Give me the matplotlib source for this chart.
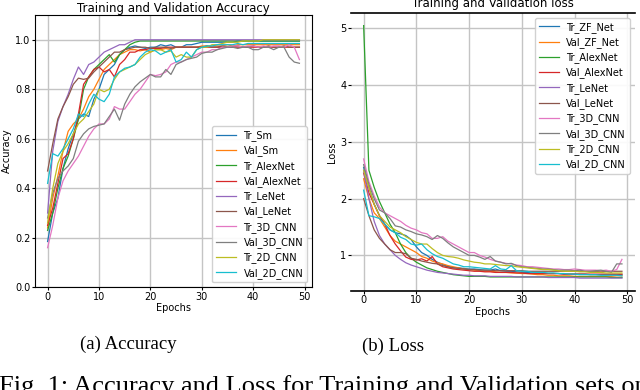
import matplotlib
matplotlib.use("Agg")
import matplotlib.pyplot as plt
import numpy as np

epochs = list(range(50))

# ---- Accuracy data ----
acc_labels = ["Tr_Sm", "Val_Sm", "Tr_AlexNet", "Val_AlexNet", "Tr_LeNet", "Val_LeNet",
              "Tr_3D_CNN", "Val_3D_CNN", "Tr_2D_CNN", "Val_2D_CNN"]
acc_tr_sm = [0.185, 0.30, 0.36, 0.48, 0.56, 0.62, 0.68, 0.70, 0.69, 0.76,
             0.80, 0.86, 0.88, 0.90, 0.94, 0.96, 0.97, 0.975, 0.97, 0.965,
             0.97, 0.97, 0.98, 0.975, 0.98, 0.97, 0.97, 0.98, 0.98, 0.985,
             0.99, 0.99, 0.99, 0.99, 0.99, 0.99, 0.99, 0.995, 0.995, 0.995,
             0.995, 0.995, 0.995, 0.995, 0.995, 0.995, 0.995, 0.995, 0.995, 0.995]
acc_val_sm = [0.24, 0.36, 0.45, 0.55, 0.63, 0.66, 0.68, 0.72, 0.77, 0.80,
              0.84, 0.88, 0.90, 0.92, 0.94, 0.95, 0.96, 0.96, 0.955, 0.96,
              0.95, 0.96, 0.96, 0.965, 0.96, 0.97, 0.97, 0.97, 0.97, 0.97,
              0.975, 0.975, 0.975, 0.975, 0.975, 0.98, 0.975, 0.98, 0.98, 0.98,
              0.98, 0.98, 0.98, 0.98, 0.98, 0.98, 0.98, 0.98, 0.98, 0.98]
acc_tr_alex = [0.23, 0.30, 0.40, 0.48, 0.53, 0.60, 0.68, 0.80, 0.85, 0.88,
               0.90, 0.92, 0.94, 0.91, 0.94, 0.96, 0.98, 0.99, 0.995, 0.995,
               0.995, 0.995, 0.995, 0.995, 0.995, 0.995, 0.995, 0.995, 0.995, 0.995,
               0.995, 0.995, 0.995, 0.995, 0.995, 0.995, 0.995, 0.995, 0.995, 0.995,
               0.995, 0.995, 0.995, 0.995, 0.995, 0.995, 0.995, 0.995, 0.995, 0.995]
acc_val_alex = [0.25, 0.32, 0.42, 0.52, 0.54, 0.60, 0.70, 0.82, 0.85, 0.88,
                0.89, 0.87, 0.88, 0.85, 0.90, 0.92, 0.95, 0.95, 0.96, 0.96,
                0.965, 0.965, 0.965, 0.97, 0.97, 0.97, 0.97, 0.97, 0.97, 0.97,
                0.97, 0.97, 0.97, 0.97, 0.97, 0.97, 0.97, 0.97, 0.97, 0.97,
                0.97, 0.97, 0.97, 0.97, 0.97, 0.97, 0.97, 0.97, 0.97, 0.97]
acc_tr_lenet = [0.30, 0.55, 0.67, 0.73, 0.78, 0.84, 0.89, 0.86, 0.90, 0.91,
                0.93, 0.95, 0.96, 0.97, 0.98, 0.98, 0.99, 1.0, 1.0, 1.0,
                1.0, 1.0, 1.0, 1.0, 1.0, 1.0, 1.0, 1.0, 1.0, 1.0,
                1.0, 1.0, 1.0, 1.0, 1.0, 1.0, 1.0, 1.0, 1.0, 1.0,
                1.0, 1.0, 1.0, 1.0, 1.0, 1.0, 1.0, 1.0, 1.0, 1.0]
acc_val_lenet = [0.47, 0.58, 0.68, 0.73, 0.77, 0.82, 0.845, 0.84, 0.845, 0.87,
                 0.89, 0.91, 0.93, 0.95, 0.95, 0.96, 0.965, 0.97, 0.97, 0.97,
                 0.965, 0.97, 0.97, 0.97, 0.965, 0.97, 0.97, 0.97, 0.97, 0.97,
                 0.97, 0.975, 0.97, 0.97, 0.975, 0.97, 0.97, 0.975, 0.97, 0.97,
                 0.975, 0.97, 0.97, 0.975, 0.97, 0.97, 0.975, 0.97, 0.97, 0.97]
acc_tr_3d = [0.16, 0.25, 0.36, 0.43, 0.47, 0.50, 0.53, 0.57, 0.61, 0.64,
             0.66, 0.66, 0.68, 0.73, 0.72, 0.72, 0.75, 0.78, 0.80, 0.83,
             0.86, 0.855, 0.86, 0.87, 0.90, 0.91, 0.91, 0.92, 0.93, 0.94,
             0.95, 0.95, 0.96, 0.96, 0.97, 0.97, 0.975, 0.975, 0.97, 0.975,
             0.975, 0.97, 0.975, 0.97, 0.975, 0.975, 0.97, 0.98, 0.97, 0.92]
acc_val_3d = [0.28, 0.38, 0.44, 0.47, 0.49, 0.52, 0.59, 0.62, 0.64, 0.65,
              0.655, 0.66, 0.69, 0.72, 0.675, 0.74, 0.78, 0.81, 0.83, 0.845,
              0.86, 0.85, 0.85, 0.88, 0.86, 0.90, 0.91, 0.92, 0.925, 0.93,
              0.945, 0.95, 0.95, 0.96, 0.965, 0.97, 0.97, 0.965, 0.97, 0.97,
              0.96, 0.96, 0.97, 0.97, 0.96, 0.97, 0.97, 0.93, 0.91, 0.905]
acc_tr_2d = [0.26, 0.40, 0.50, 0.55, 0.58, 0.62, 0.66, 0.68, 0.71, 0.74,
             0.80, 0.79, 0.80, 0.84, 0.87, 0.88, 0.89, 0.90, 0.92, 0.94,
             0.95, 0.96, 0.96, 0.95, 0.955, 0.93, 0.94, 0.93, 0.93, 0.96,
             0.97, 0.97, 0.98, 0.98, 0.985, 0.99, 0.99, 0.99, 0.995, 0.995,
             0.995, 0.995, 1.0, 1.0, 1.0, 1.0, 1.0, 1.0, 1.0, 1.0]
acc_val_2d = [0.42, 0.54, 0.53, 0.56, 0.60, 0.64, 0.70, 0.69, 0.74, 0.78,
              0.76, 0.75, 0.78, 0.85, 0.87, 0.885, 0.89, 0.90, 0.93, 0.95,
              0.96, 0.955, 0.94, 0.95, 0.96, 0.91, 0.92, 0.95, 0.93, 0.96,
              0.97, 0.975, 0.975, 0.98, 0.98, 0.98, 0.98, 0.985, 0.98, 0.985,
              0.985, 0.985, 0.985, 0.985, 0.985, 0.985, 0.985, 0.985, 0.985, 0.985]
acc_series = [acc_tr_sm, acc_val_sm, acc_tr_alex, acc_val_alex, acc_tr_lenet, acc_val_lenet,
              acc_tr_3d, acc_val_3d, acc_tr_2d, acc_val_2d]

# ---- Loss data ----
loss_labels = ["Tr_ZF_Net", "Val_ZF_Net", "Tr_AlexNet", "Val_AlexNet", "Tr_LeNet", "Val_LeNet",
               "Tr_3D_CNN", "Val_3D_CNN", "Tr_2D_CNN", "Val_2D_CNN"]
loss_tr_zf = [2.55, 2.2, 1.9, 1.7, 1.55, 1.45, 1.4, 1.38, 1.35, 1.28,
              1.15, 1.05, 1.0, 0.93, 0.88, 0.84, 0.8, 0.78, 0.78, 0.77,
              0.76, 0.76, 0.75, 0.74, 0.74, 0.76, 0.73, 0.72, 0.72, 0.71,
              0.7, 0.7, 0.69, 0.69, 0.68, 0.68, 0.68, 0.68, 0.67, 0.67,
              0.67, 0.67, 0.67, 0.66, 0.66, 0.66, 0.66, 0.66, 0.66, 0.66]
loss_val_zf = [2.35, 2.0, 1.75, 1.65, 1.5, 1.35, 1.25, 1.2, 1.15, 1.1,
               1.05, 0.98, 0.95, 0.9, 0.87, 0.85, 0.82, 0.8, 0.78, 0.76,
               0.75, 0.74, 0.73, 0.72, 0.72, 0.71, 0.7, 0.7, 0.69, 0.69,
               0.68, 0.68, 0.67, 0.66, 0.66, 0.65, 0.65, 0.64, 0.64, 0.64,
               0.63, 0.63, 0.63, 0.63, 0.63, 0.63, 0.63, 0.63, 0.64, 0.64]
loss_tr_alex = [5.05, 2.5, 2.2, 1.95, 1.75, 1.55, 1.4, 1.2, 1.05, 0.95,
                0.88, 0.83, 0.78, 0.75, 0.72, 0.7, 0.68, 0.66, 0.65, 0.64,
                0.63, 0.63, 0.63, 0.63, 0.62, 0.62, 0.62, 0.62, 0.62, 0.62,
                0.62, 0.62, 0.62, 0.62, 0.62, 0.62, 0.62, 0.62, 0.62, 0.62,
                0.62, 0.62, 0.62, 0.62, 0.62, 0.62, 0.62, 0.61, 0.61, 0.61]
loss_val_alex = [2.45, 2.1, 1.9, 1.7, 1.55, 1.35, 1.2, 1.08, 0.97, 0.93,
                 0.92, 0.94, 0.9, 0.98, 0.85, 0.8, 0.78, 0.76, 0.75, 0.74,
                 0.73, 0.72, 0.72, 0.71, 0.71, 0.7, 0.7, 0.7, 0.7, 0.69,
                 0.69, 0.68, 0.68, 0.68, 0.68, 0.68, 0.68, 0.68, 0.67, 0.67,
                 0.67, 0.67, 0.67, 0.67, 0.67, 0.67, 0.67, 0.67, 0.67, 0.67]
loss_tr_lenet = [2.5, 2.0, 1.6, 1.35, 1.2, 1.1, 1.0, 0.93, 0.87, 0.83,
                 0.8, 0.77, 0.74, 0.72, 0.7, 0.69, 0.68, 0.67, 0.66, 0.65,
                 0.65, 0.64, 0.64, 0.64, 0.63, 0.63, 0.63, 0.63, 0.63, 0.62,
                 0.62, 0.62, 0.62, 0.62, 0.62, 0.61, 0.61, 0.61, 0.61, 0.61,
                 0.61, 0.6, 0.6, 0.6, 0.6, 0.6, 0.6, 0.6, 0.6, 0.6]
loss_val_lenet = [2.0, 1.7, 1.45, 1.3, 1.2, 1.1, 1.05, 1.05, 1.03, 0.95,
                  0.93, 0.9, 0.88, 0.86, 0.85, 0.82, 0.8, 0.78, 0.77, 0.76,
                  0.75, 0.75, 0.74, 0.74, 0.74, 0.73, 0.73, 0.73, 0.73, 0.73,
                  0.73, 0.72, 0.72, 0.72, 0.72, 0.72, 0.72, 0.72, 0.72, 0.72,
                  0.72, 0.72, 0.72, 0.72, 0.72, 0.72, 0.72, 0.72, 0.72, 0.72]
loss_tr_3d = [2.7, 2.3, 2.05, 1.85, 1.75, 1.7, 1.65, 1.6, 1.53, 1.48,
              1.45, 1.4, 1.38, 1.3, 1.3, 1.33, 1.25, 1.2, 1.15, 1.1,
              1.05, 1.05, 1.0, 0.97, 0.93, 0.9, 0.88, 0.86, 0.85, 0.83,
              0.82, 0.8, 0.8, 0.79, 0.78, 0.77, 0.76, 0.76, 0.75, 0.75,
              0.76, 0.75, 0.74, 0.74, 0.74, 0.73, 0.74, 0.72, 0.75, 0.93]
loss_val_3d = [2.6, 2.25, 2.0, 1.8, 1.75, 1.65, 1.52, 1.5, 1.45, 1.42,
               1.38, 1.36, 1.33, 1.28, 1.35, 1.3, 1.22, 1.15, 1.1, 1.05,
               1.0, 1.0, 0.97, 0.93, 0.98, 0.9, 0.88, 0.85, 0.86, 0.82,
               0.8, 0.79, 0.78, 0.77, 0.76, 0.76, 0.75, 0.74, 0.74, 0.74,
               0.73, 0.74, 0.72, 0.72, 0.73, 0.74, 0.72, 0.7, 0.85, 0.85]
loss_tr_2d = [2.5, 2.2, 1.9, 1.7, 1.6, 1.5, 1.45, 1.4, 1.33, 1.28,
              1.23, 1.2, 1.2, 1.12, 1.05, 1.0, 0.98, 0.97, 0.95, 0.92,
              0.9, 0.88, 0.87, 0.85, 0.85, 0.84, 0.83, 0.82, 0.82, 0.8,
              0.79, 0.78, 0.77, 0.76, 0.75, 0.75, 0.74, 0.73, 0.72, 0.72,
              0.72, 0.71, 0.71, 0.7, 0.7, 0.7, 0.69, 0.69, 0.69, 0.69]
loss_val_2d = [2.15, 1.7, 1.68, 1.65, 1.55, 1.45, 1.4, 1.32, 1.28, 1.2,
               1.18, 1.2, 1.1, 1.03, 0.98, 0.95, 0.9, 0.85, 0.83, 0.8,
               0.8, 0.79, 0.78, 0.77, 0.76, 0.82, 0.76, 0.75, 0.82, 0.73,
               0.72, 0.72, 0.7, 0.7, 0.7, 0.69, 0.69, 0.68, 0.68, 0.67,
               0.67, 0.66, 0.66, 0.66, 0.66, 0.65, 0.65, 0.65, 0.65, 0.64]
loss_series = [loss_tr_zf, loss_val_zf, loss_tr_alex, loss_val_alex, loss_tr_lenet, loss_val_lenet,
               loss_tr_3d, loss_val_3d, loss_tr_2d, loss_val_2d]

colors = ["#1f77b4", "#ff7f0e", "#2ca02c", "#d62728", "#9467bd",
          "#8c564b", "#e377c2", "#7f7f7f", "#bcbd22", "#17becf"]

fig = plt.figure(figsize=(6.4, 3.9), dpi=100)
fs = 7

# Left: accuracy
ax1 = fig.add_axes([0.0547, 0.2633, 0.4328, 0.6982])
for y, lab, c in zip(acc_series, acc_labels, colors):
    ax1.plot(epochs, y, color=c, lw=0.9, label=lab)
ax1.set_ylim(0, 1.1)
ax1.set_yticks([0.0, 0.2, 0.4, 0.6, 0.8, 1.0])
ax1.set_xticks([0, 10, 20, 30, 40, 50])
ax1.grid(True, color="#c4c4c4", lw=1.0)
ax1.set_title("Training and Validation Accuracy", fontsize=8.5, pad=1.5)
ax1.set_xlabel("Epochs", fontsize=fs, labelpad=1)
ax1.set_ylabel("Accuracy", fontsize=fs, labelpad=2)
ax1.tick_params(labelsize=fs, length=2, pad=1.2)
ax1.legend(loc="lower right", fontsize=fs, labelspacing=0.45, handlelength=2.0,
           borderpad=0.4, framealpha=0.9)

# Right: loss
ax2 = fig.add_axes([0.548, 0.2546, 0.444, 0.7121])
for y, lab, c in zip(loss_series, loss_labels, colors):
    ax2.plot(epochs, y, color=c, lw=0.9, label=lab)
ax2.set_yticks([1, 2, 3, 4, 5])
ax2.set_xticks([0, 10, 20, 30, 40, 50])
ax2.grid(True, color="#c4c4c4", lw=1.0)
ax2.set_title("Training and Validation loss", fontsize=8.5, pad=4)
ax2.set_xlabel("Epochs", fontsize=fs, labelpad=1)
ax2.set_ylabel("Loss", fontsize=fs, labelpad=2)
ax2.tick_params(labelsize=fs, length=2, pad=1.2)
ax2.spines["left"].set_visible(False)
ax2.spines["right"].set_visible(False)
ax2.spines["top"].set_linewidth(1.2)
ax2.spines["bottom"].set_linewidth(1.2)
ax2.legend(loc="upper right", fontsize=fs, labelspacing=0.45, handlelength=2.0,
           borderpad=0.4, framealpha=0.9)

# Captions
fig.text(128 / 640, 1 - 344 / 390, "(a) Accuracy", ha="center", va="center",
         fontsize=13.5, family="Liberation Serif")
fig.text(393 / 640, 1 - 346 / 390, "(b) Loss", ha="center", va="center",
         fontsize=13.5, family="Liberation Serif")
fig.text(-0.002, 1 - 393 / 390, "Fig. 1: Accuracy and Loss for Training and Validation sets on",
         ha="left", va="baseline", fontsize=19, family="Liberation Serif")

fig.savefig("out.png", dpi=100)
